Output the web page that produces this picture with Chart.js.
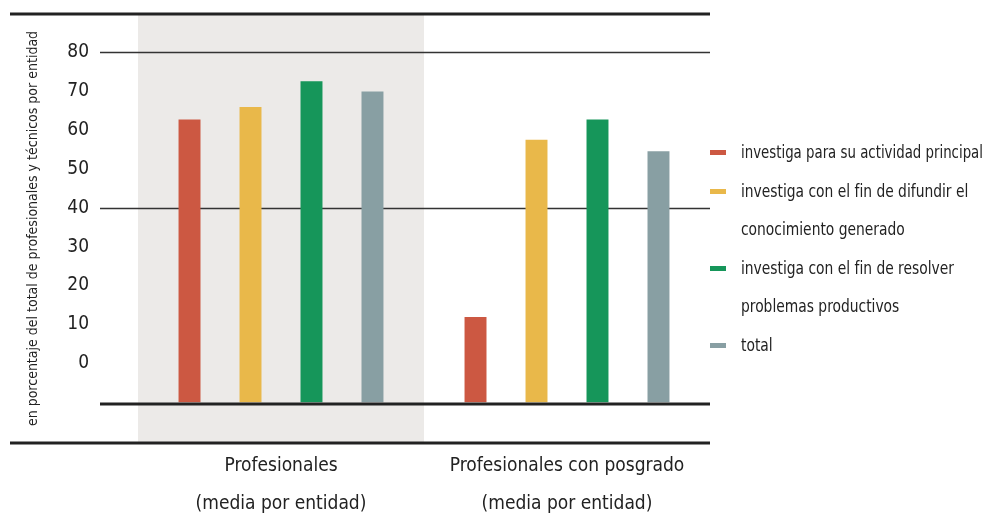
<!DOCTYPE html>
<html lang="es">
<head>
<meta charset="UTF-8">
<title>Profesionales que investigan</title>
<script src="https://cdn.jsdelivr.net/npm/chart.js@4/dist/chart.umd.min.js"></script>
<style>
  body { margin: 0; background: #fff; font-family: "DejaVu Sans Condensed", sans-serif; }
  .wrap { position: relative; width: 986px; height: 517px; }
  .legend { position: absolute; left: 710px; top: 133px; font-size: 18px; line-height: 38.6px; color: #222; }
  .legend-item { display: flex; align-items: flex-start; }
  .swatch { width: 16px; height: 5px; margin-top: 17px; margin-right: 15px; flex: none; }
  .legend-line { display: block; white-space: nowrap; transform: scaleX(0.855); transform-origin: left top; }
</style>
</head>
<body>
<div class="wrap">
  <canvas id="chart" width="986" height="517"></canvas>
  <div class="legend" id="legend"></div>
</div>
<script>
const categories = [
  ["Profesionales", "(media por entidad)"],
  ["Profesionales con posgrado", "(media por entidad)"]
];
const seriesLabels = [
  ["investiga para su actividad principal"],
  ["investiga con el fin de difundir el", "conocimiento generado"],
  ["investiga con el fin de resolver", "problemas productivos"],
  ["total"]
];
const actividadPrincipal = [62.7, 11.9];
const difundir = [65.9, 57.5];
const resolver = [72.5, 62.7];
const total = [69.9, 54.5];
const tickValues = [0, 10, 20, 30, 40, 50, 60, 70, 80];
const gridValues = [40, 80];
const barBase = -10;

const colors = ["#cc5842", "#e9b84a", "#16965a", "#889fa3"];
const bandColor = "#eceae8";
const lineColor = "#222";
const fontFamily = '"DejaVu Sans Condensed", sans-serif';

const seriesValues = [actividadPrincipal, difundir, resolver, total];

const framePlugin = {
  id: "frame",
  beforeDatasetsDraw(chart) {
    const { ctx, chartArea, scales: { x, y } } = chart;
    const half = (x.getPixelForValue(1) - x.getPixelForValue(0)) / 2;
    ctx.save();
    ctx.fillStyle = bandColor;
    ctx.fillRect(x.getPixelForValue(0) - half, chartArea.top, half * 2, chartArea.bottom - chartArea.top);
    ctx.strokeStyle = "#333";
    ctx.lineWidth = 1.3;
    gridValues.forEach(v => {
      const py = Math.round(y.getPixelForValue(v)) + 0.5;
      ctx.beginPath();
      ctx.moveTo(chartArea.left - 38, py);
      ctx.lineTo(chartArea.right, py);
      ctx.stroke();
    });
    ctx.restore();
  },
  afterDatasetsDraw(chart) {
    const { ctx, chartArea, scales: { y } } = chart;
    ctx.save();
    ctx.strokeStyle = lineColor;
    ctx.lineWidth = 3;
    const by = y.getPixelForValue(barBase) + 1.8;
    ctx.beginPath();
    ctx.moveTo(chartArea.left - 38, by);
    ctx.lineTo(chartArea.right, by);
    ctx.stroke();
    [chartArea.top, chartArea.bottom].forEach(py => {
      ctx.beginPath();
      ctx.moveTo(10, py);
      ctx.lineTo(chartArea.right, py);
      ctx.stroke();
    });
    ctx.restore();
  }
};

const chart = new Chart(document.getElementById("chart"), {
  type: "bar",
  data: {
    labels: categories,
    datasets: seriesValues.map((values, i) => ({
      label: seriesLabels[i].join(" "),
      data: values,
      base: barBase,
      backgroundColor: colors[i],
      categoryPercentage: 0.853,
      barPercentage: 0.36
    }))
  },
  options: {
    responsive: false,
    animation: false,
    layout: { padding: { left: 0, top: 14, right: 276, bottom: 0 } },
    plugins: { legend: { display: false }, tooltip: { enabled: false } },
    scales: {
      x: {
        grid: { display: false },
        border: { display: false },
        ticks: {
          color: "#222",
          padding: -4,
          font: { family: fontFamily, size: 19, lineHeight: 2.0 }
        },
        afterFit(scale) { scale.height = 74; }
      },
      y: {
        min: -20.5,
        max: 89.8,
        grid: { display: false },
        border: { display: false },
        afterBuildTicks(scale) { scale.ticks = tickValues.map(v => ({ value: v })); },
        ticks: {
          color: "#222",
          padding: 41,
          font: { family: fontFamily, size: 19 }
        },
        title: {
          display: true,
          text: "en porcentaje del total de profesionales y técnicos por entidad",
          color: "#222",
          padding: { top: 25, bottom: 0 },
          font: { family: fontFamily, size: 14 }
        },
        afterFit(scale) {
          scale.width = 138;
          scale.paddingTop = 0;
          scale.paddingBottom = 0;
        }
      }
    }
  },
  plugins: [framePlugin]
});

const legend = document.getElementById("legend");
chart.data.datasets.forEach((ds, i) => {
  const item = document.createElement("div");
  item.className = "legend-item";
  const sw = document.createElement("span");
  sw.className = "swatch";
  sw.style.background = ds.backgroundColor;
  const text = document.createElement("span");
  seriesLabels[i].forEach(line => {
    const ln = document.createElement("span");
    ln.className = "legend-line";
    ln.textContent = line;
    text.appendChild(ln);
  });
  item.appendChild(sw);
  item.appendChild(text);
  legend.appendChild(item);
});
// squeeze any legend line that would run past the right edge
document.querySelectorAll(".legend-line").forEach(ln => {
  const r = ln.getBoundingClientRect();
  if (r.right > 983) {
    const s = 0.855 * (983 - r.left) / r.width;
    ln.style.transform = "scaleX(" + s + ")";
  }
});
</script>
</body>
</html>
